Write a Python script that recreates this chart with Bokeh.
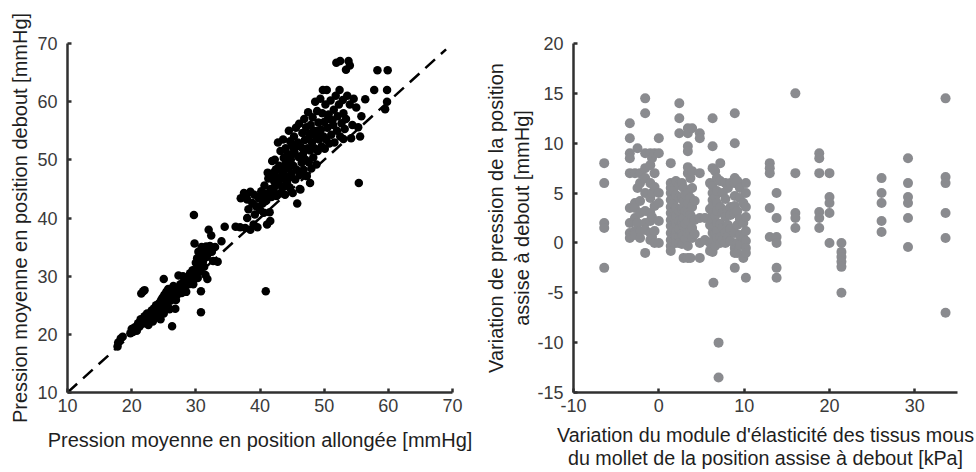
from bokeh.plotting import figure
from bokeh.layouts import row
from bokeh.models import ColumnDataSource, FixedTicker, Range1d
from bokeh.embed import file_html
from bokeh.resources import INLINE

# ---------------- data: left panel (lying vs standing mean pressure, mmHg) --------------
lying_mmHg = [
    17.8, 17.9, 18.3, 18.6, 19.8, 20.0, 20.2, 20.5, 20.8, 21.0, 21.2, 21.4, 21.5, 21.8, 22.0,
    21.7, 22.0, 22.2, 22.4, 22.6, 22.8, 23.0, 23.1, 23.3, 23.5, 23.6,
    23.8, 24.0, 24.1, 24.3, 24.4, 24.5, 24.6, 24.7, 24.8, 24.9, 25.0, 25.0, 25.1, 25.2, 25.3,
    25.4, 25.5, 25.6, 25.7, 25.8, 25.9, 26.0, 26.1, 26.3, 26.3, 26.5, 26.6, 26.8, 26.9, 27.0,
    27.1, 27.3, 27.4, 27.6, 27.8, 28.0, 28.1, 28.3,
    28.5, 28.7, 28.9, 29.1, 29.3, 29.5, 29.6, 29.7, 29.8, 29.9, 30.0, 30.1, 30.2, 30.3, 30.4,
    30.5, 30.6, 30.7, 30.8, 30.8, 30.9, 31.0, 31.1, 31.2, 31.3, 31.5, 31.6, 31.7, 31.8, 32.0,
    32.0, 32.2, 32.4, 32.5, 32.7, 33.0, 33.4, 34.0, 34.5,
    36.2, 36.9, 37.7, 38.0, 38.2, 38.0, 37.5, 37.8, 38.5, 38.5, 39.0, 39.2, 39.4, 39.6, 39.8,
    40.0, 40.2, 40.4, 40.6, 40.7, 40.8, 41.0, 41.1, 41.2, 41.3, 41.5, 41.6, 41.7, 41.8, 41.9,
    42.0,
    42.1, 42.2, 42.3, 42.4, 42.5, 42.6, 42.7, 42.8, 42.9, 43.0, 43.1, 43.2, 43.3, 43.4, 43.5,
    43.6, 43.7, 43.8, 43.9, 44.0, 44.1, 44.2, 44.3, 44.4, 44.5, 44.6, 44.7, 44.8, 44.9, 45.0,
    45.1, 45.2, 45.3, 45.4, 45.5, 45.6, 45.7, 45.8, 45.9, 46.0, 46.1, 46.2, 46.3, 46.4, 46.5,
    46.6, 46.7, 46.8, 46.9, 47.0, 47.1, 47.2, 47.3, 47.4, 47.5, 47.6, 47.7, 47.8, 47.9, 48.0,
    48.1, 48.2, 48.3, 48.4, 48.5, 48.6, 48.7, 48.8, 48.9, 49.0, 49.1, 49.2, 49.4, 49.5, 49.6,
    49.7, 49.8, 49.9, 50.0, 50.1, 50.2, 50.3, 50.4, 50.5, 50.7, 50.8, 51.0, 51.1, 51.3, 51.5,
    51.6, 51.8, 52.0, 52.1, 52.3, 52.4, 52.5, 52.7, 52.9, 53.0, 53.2, 53.4, 53.6, 53.0, 54.0,
    54.2, 54.4, 54.6, 55.0, 55.3, 55.6, 55.8, 56.4,
    51.9, 52.5, 53.4, 53.8, 54.0, 57.8, 58.3, 59.9, 59.8, 59.8, 59.5, 55.4, 40.9,
    41.0, 42.6, 43.7, 44.9, 45.6, 46.9, 48.3, 49.3, 40.3, 39.1, 43.9, 44.6, 46.2, 47.8,
    37.0, 38.8, 40.5, 42.3, 44.1, 45.3, 47.5, 49.0, 50.6, 51.4,
]
standing_mmHg = [
    17.9, 18.6, 19.3, 19.6, 20.2, 20.9, 20.4, 21.2, 20.6, 21.9, 21.3, 22.6, 27.0, 27.4, 27.6,
    21.8, 23.1, 22.4, 23.6, 21.6, 22.9, 23.4, 24.1, 22.2, 24.5, 23.2,
    25.0, 24.2, 23.0, 25.4, 24.6, 22.6, 25.9, 24.0, 26.3, 25.2, 23.6, 29.5, 26.8, 25.7, 24.6,
    27.3, 26.1, 25.0, 27.8, 26.6, 24.3, 27.2, 25.8, 21.4, 26.5, 28.3, 27.0, 24.4, 25.9, 28.0,
    26.8, 30.1, 27.5, 28.6, 27.1, 30.0, 29.0, 28.2,
    27.3, 29.5, 28.6, 30.5, 29.3, 31.0, 28.6, 40.5, 35.6, 30.3, 32.3, 31.2, 33.1, 29.7, 34.2,
    32.0, 30.8, 31.2, 27.4, 23.8, 35.0, 33.6, 32.5, 34.6, 31.6, 30.2, 35.1, 33.3, 29.5, 34.0,
    38.0, 35.2, 37.0, 34.2, 32.6, 35.0, 32.5, 36.0, 38.5,
    38.5, 38.4, 38.3, 40.0, 41.5, 43.2, 44.3, 43.8, 44.5, 38.0, 38.9, 40.6, 42.0, 38.4, 43.4,
    41.4, 44.6, 42.5, 40.9, 45.6, 42.9, 44.2, 38.9, 47.8, 46.8, 41.0, 39.5, 45.0, 43.6, 49.8,
    47.2,
    44.7, 46.3, 50.0, 45.5, 48.4, 43.8, 47.0, 53.0, 45.9, 49.0, 44.2, 51.5, 46.8, 48.0, 45.2,
    53.5, 50.3, 47.4, 44.0, 52.0, 49.3, 46.1, 51.0, 48.5, 55.0, 45.3, 53.2, 50.0, 47.6, 52.6,
    44.3, 49.0, 54.0, 51.2, 46.6, 55.5, 48.3, 42.5, 53.0, 50.5, 56.2, 47.4, 44.9, 52.2, 49.5,
    54.6, 51.0, 48.3, 57.0, 53.4, 50.0, 55.6, 47.2, 52.0, 58.2, 49.6, 54.5, 51.6, 56.0, 48.5,
    53.0, 57.3, 50.4, 55.0, 52.0, 60.0, 54.0, 49.2, 58.4, 51.5, 56.4, 53.5, 60.5, 55.2, 52.3,
    58.0, 62.0, 54.0, 56.5, 51.9, 59.5, 53.5, 62.0, 55.5, 57.8, 52.8, 60.2, 54.3, 56.8, 58.6,
    53.0, 61.0, 55.0, 57.5, 59.5, 62.0, 54.0, 56.3, 60.3, 58.0, 55.3, 57.0, 61.0, 53.6, 59.5,
    53.7, 56.0, 60.5, 59.0, 55.6, 54.0, 57.5, 60.4,
    66.7, 67.0, 65.5, 67.0, 66.2, 62.0, 65.4, 65.4, 62.0, 60.0, 58.7, 46.0, 27.4,
    43.0, 46.5, 48.8, 50.8, 52.4, 51.8, 54.8, 54.8, 43.6, 44.0, 45.6, 47.0, 45.0, 46.0,
    43.4, 42.6, 43.8, 48.0, 49.6, 51.8, 53.6, 55.0, 57.0, 56.0,
]
identity_line = [10, 69]

# ---------------- data: right panel (elasticity change vs pressure change) --------------
elasticity_kPa = [
    -6.4, -6.4, -6.4, -6.4, -6.4,
    -3.4, -3.4, -3.4, -3.4, -3.4, -3.4, -3.4, -3.4, -3.4,
    -2.8, -2.8, -2.8, -2.8, -2.8, -2.8,
    -2.5, -2.5, -2.5,
    -2.2, -2.2, -2.2, -2.2, -2.2, -2.2,
    -1.6, -1.6, -1.6, -1.6, -1.6, -1.6, -1.6, -1.6, -1.6, -1.6,
    -1.0, -1.0, -1.0, -1.0, -1.0, -1.0, -1.0, -1.0,
    -0.8, -0.8, -0.8, -0.8,
    -0.5, -0.5, -0.5, -0.5, -0.5, -0.5,
    0.0, 0.0, 0.0, 0.0, 0.0, 0.0,
    1.4, 1.4, 1.4, 1.4, 1.4, 1.4, 1.4, 1.4, 1.4, 1.4, 1.4, 1.4, 1.4,
    1.7, 1.7, 1.7, 1.7, 1.7,
    2.0, 2.0, 2.0, 2.0, 2.0, 2.0, 2.0, 2.0,
    2.4, 2.4, 2.4, 2.4, 2.4, 2.4, 2.4, 2.4, 2.4, 2.4,
    2.7, 2.7, 2.7, 2.7, 2.7, 2.7,
    2.9, 2.9, 2.9, 2.9, 2.9, 2.9, 2.9, 2.9,
    3.1, 3.1, 3.1, 3.1,
    3.4, 3.4, 3.4, 3.4, 3.4, 3.4, 3.4, 3.4, 3.4, 3.4, 3.4, 3.4, 3.4,
    3.7, 3.7, 3.7, 3.7, 3.7,
    3.9, 3.9, 3.9, 3.9, 3.9, 3.9, 3.9,
    4.2, 4.2, 4.2,
    4.8, 4.8, 4.8, 4.8, 4.8, 4.8,
    5.4, 5.4,
    6.0, 6.0, 6.0, 6.0, 6.0,
    6.3, 6.3, 6.3, 6.3, 6.3, 6.3, 6.3, 6.3, 6.3, 6.3, 6.3, 6.3, 6.3, 6.4,
    6.6, 6.6, 6.6, 6.6, 6.6,
    6.8, 6.8, 6.8, 6.8, 6.8, 6.8, 6.8, 7.0, 7.0,
    7.2, 7.2, 7.2, 7.2, 7.2, 7.2,
    7.5, 7.5, 7.5, 7.5,
    7.8, 7.8, 7.8, 7.8, 7.8,
    8.1, 8.1, 8.1, 8.1,
    8.4, 8.4, 8.4, 8.4, 8.4,
    8.9, 8.9, 8.9, 8.9, 8.9, 8.9, 8.9, 8.9, 8.9, 8.9, 8.9,
    9.2, 9.2, 9.2, 9.2, 9.2,
    9.5, 9.5, 9.5, 9.5, 9.5,
    9.9, 9.9, 9.9, 9.9,
    10.2, 10.2, 10.2, 10.2, 10.2, 10.2, 10.2, 10.2, 10.2,
    13.0, 13.0, 13.0, 13.0, 13.0,
    13.8, 13.8, 13.8, 13.8, 13.8, 13.8,
    16.0, 16.0, 16.0, 16.0, 16.0,
    18.8, 18.8, 18.8, 18.8, 18.8, 18.8,
    20.0, 20.0, 20.0, 20.0, 20.0,
    21.4, 21.4, 21.4, 21.4, 21.4, 21.4,
    26.1, 26.1, 26.1, 26.1, 26.1,
    29.2, 29.2, 29.2, 29.2, 29.2, 29.2,
    33.6, 33.6, 33.6, 33.6, 33.6, 33.6,
]
pressure_change_mmHg = [
    8, 6, 2, 1.5, -2.5,
    12, 10.5, 9, 8.5, 7, 3.5, 2, 1, 0.5,
    7, 4, 3.5, 1.2, 0.8, 2.5,
    9.5, 5.5, 2.0,
    6, 4.2, 3, 1.2, 0.5, 7,
    14.5, 13, 9, 7.5, 6.5, 5, 3.2, 2, 1.3, -1,
    9, 7.8, 6, 4.5, 3, 2.2, 1, 0.3,
    8.5, 5.0, 2.6, 0.6,
    9, 7, 5.6, 3.7, 1.2, 0,
    10.5, 9, 5, 4, 2.2, 0,
    8, 6, 5.5, 5, 4.3, 3.6, 3, 2.3, 1.7, 1, 0.3, -0.3, -0.8,
    5.2, 3.9, 2.6, 1.3, 0.1,
    6.2, 4.8, 3.5, 2.7, 1.9, 1.1, 0.5, 0,
    14, 12.5, 11, 5.8, 4.5, 3.2, 2.2, 1.4, 0.6, 0,
    6.0, 4.6, 3.4, 2.0, 0.9, -0.1,
    5.5, 4.2, 3.6, 2.5, 1.7, 0.8, 0, -1.5,
    4.8, 3.2, 1.9, 0.4,
    11.5, 11, 9.7, 9.2, 7.6, 7, 5, 4, 3, 2.2, 1, -0.3, -1.5,
    6.5, 4.5, 2.8, 1.2, -1.5,
    11.5, 7.2, 5.5, 3.6, 2.5, 1.5, 0.5,
    4.2, 2.3, 0.9,
    11, 10.5, 7, 2.5, 0, -1.5,
    2.5, 0.3,
    6.0, 3.4, 1.8, 0.0, -0.8,
    12.5, 9.7, 7.5, 5.7, 5, 4.3, 3.7, 3, 2.3, 1.5, 1, 0.2, -0.9, -4,
    7.2, 4.6, 2.7, 1.0, -0.3,
    6.5, 5.2, 4, 3.2, 2, 1.2, 0.5, -10, -13.5,
    8, 6.2, 3.6, 1.9, 0.6, 0,
    5.0, 3.0, 1.5, 0.3,
    6, 4.4, 2.6, 1, 0,
    5.5, 3.3, 1.8, 0.6,
    6, 3.6, 2.8, 1.4, 0.2,
    13, 10, 6.5, 6, 4.7, 3.7, 3, 1, -0.5, -1, -2.5,
    6.2, 3.2, 1.8, 0.0, -1.0,
    5.5, 4.5, 2.4, 0.8, -0.2,
    4.0, 2.0, 0.5, -1.5,
    6, 5, 3.6, 2.6, 1.2, 0.2, -0.5, -1, -3.5,
    8, 7.5, 7, 3.5, 0.6,
    5, 2.5, 0.6, 0, -2.5, -3.5,
    15, 7, 3, 2.5, 1.5,
    9, 8.5, 7, 3.1, 2.5, 1.5,
    7, 4.6, 4, 3, 0,
    0, -0.9, -1.4, -1.9, -2.4, -5,
    6.5, 5, 4, 2.2, 1.1,
    8.5, 6, 4.6, 4, 2.5, -0.4,
    14.5, 6.6, 6, 3, 0.5, -7,
]

left_xticks = [10, 20, 30, 40, 50, 60, 70]
left_yticks = [10, 20, 30, 40, 50, 60, 70]
right_xticks = [-10, 0, 10, 20, 30]
right_yticks = [-15, -10, -5, 0, 5, 10, 15, 20]

left_xlabel = "Pression moyenne en position allongée [mmHg]"
left_ylabel = "Pression moyenne en position debout [mmHg]"
right_xlabel = ("Variation du module d'élasticité des tissus mous\n"
                "du mollet de la position assise à debout [kPa]")
right_ylabel = "Variation de pression de la position\nassise à debout [mmHg]"

FONT = "Liberation Sans"
AX = "#303030"
LABEL_COLOR = "#1e1e1e"


def style(p, xticks, yticks):
    p.xaxis.ticker = FixedTicker(ticks=xticks)
    p.yaxis.ticker = FixedTicker(ticks=yticks)
    p.xaxis.major_label_overrides = {t: str(t) for t in xticks}
    p.yaxis.major_label_overrides = {t: str(t) for t in yticks}
    for ax in (p.xaxis[0], p.yaxis[0]):
        ax.axis_line_width = 2.5
        ax.axis_line_color = AX
        ax.major_tick_in = 4
        ax.major_tick_out = 0
        ax.major_tick_line_width = 2.5
        ax.major_tick_line_color = AX
        ax.minor_tick_line_color = None
        ax.major_label_text_font = FONT
        ax.major_label_text_font_size = "18px"
        ax.major_label_text_color = "#3a3a3a"
        ax.axis_label_text_font = FONT
        ax.axis_label_text_font_size = "20px"
        ax.axis_label_text_font_style = "normal"
        ax.axis_label_text_color = LABEL_COLOR
    p.xaxis.major_label_standoff = 6
    p.yaxis.major_label_standoff = 10
    p.grid.visible = False
    p.outline_line_color = None
    p.background_fill_color = "white"
    p.border_fill_color = "white"


# ---------------- left panel ----------------
p1 = figure(width=481, height=472, output_backend="svg", toolbar_location=None,
            x_range=Range1d(10, 70), y_range=Range1d(10, 70),
            min_border_left=67, min_border_right=29, min_border_top=43, min_border_bottom=78)
style(p1, left_xticks, left_yticks)
p1.xaxis.axis_label = left_xlabel
p1.yaxis.axis_label = left_ylabel
p1.xaxis.axis_label_standoff = 14
p1.yaxis.axis_label_standoff = 3
src1 = ColumnDataSource(dict(x=lying_mmHg, y=standing_mmHg))
p1.scatter("x", "y", source=src1, size=8.5, fill_color="black", line_color=None)
p1.line(identity_line, identity_line, line_color="black", line_width=2.5, line_dash="13 8")

# ---------------- right panel ----------------
p2 = figure(width=495, height=472, output_backend="svg", toolbar_location=None,
            x_range=Range1d(-10, 35), y_range=Range1d(-15, 20),
            min_border_left=92, min_border_right=19, min_border_top=43, min_border_bottom=79)
style(p2, right_xticks, right_yticks)
p2.xaxis.axis_label = right_xlabel
p2.yaxis.axis_label = right_ylabel
p2.xaxis.axis_label_standoff = 9
p2.yaxis.axis_label_standoff = 1
p2.xaxis.axis_label_text_font_size = "19.7px"
p2.xaxis.axis_label_text_line_height = 1.07
src2 = ColumnDataSource(dict(x=elasticity_kPa, y=pressure_change_mmHg))
p2.scatter("x", "y", source=src2, size=10, fill_color="#8a8b8f", line_color=None)

layout = row(p1, p2)
open("out.html", "w").write(file_html(layout, INLINE))
